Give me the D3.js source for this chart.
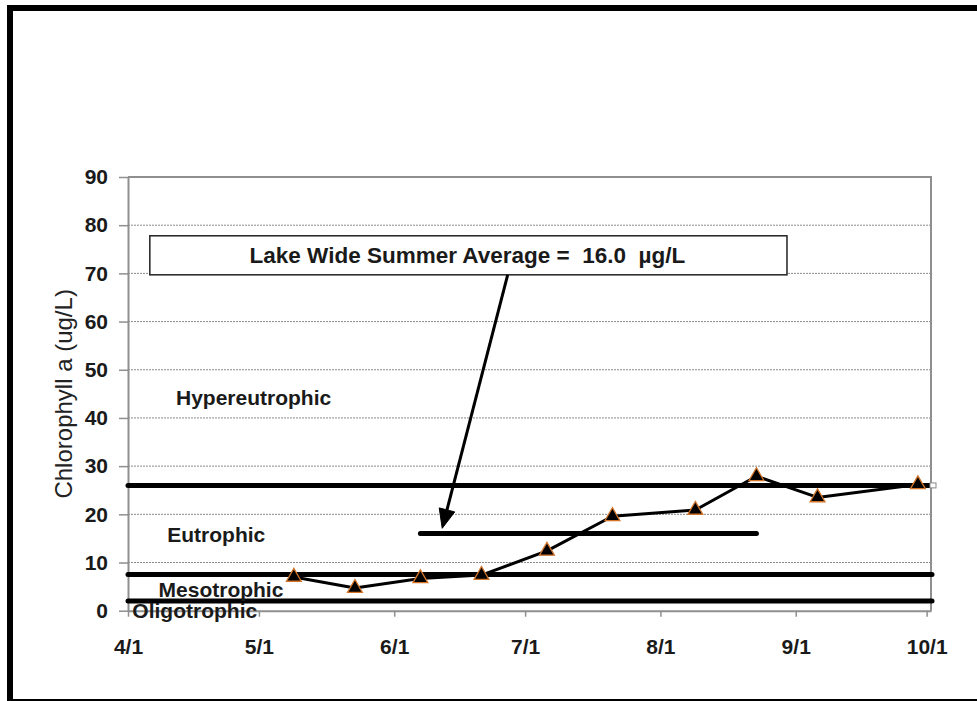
<!DOCTYPE html>
<html>
<head>
<meta charset="utf-8">
<script src="https://cdn.jsdelivr.net/npm/d3@7"></script>
<style>
  html, body { margin: 0; padding: 0; background: #fff; }
  svg { display: block; font-family: "Liberation Sans", Arial, sans-serif; }
</style>
</head>
<body>
<svg id="chart" width="977" height="701"></svg>
<script>
// ---------- data ----------
const YEAR = 2009;
const sampleDates = ["05-09", "05-23", "06-07", "06-21", "07-06", "07-21", "08-09", "08-23", "09-06", "09-29"];
const chlorophyll = [7.0, 4.7, 6.7, 7.4, 12.4, 19.6, 20.9, 27.9, 23.5, 26.2];

const xDomain = ["04-01", "10-02"];
const xTickDates = ["04-01", "05-01", "06-01", "07-01", "08-01", "09-01", "10-01"];
const yTicks = [0, 10, 20, 30, 40, 50, 60, 70, 80, 90];

const thresholdValues = [26, 7.5, 2];
const trophicLabels = ["Hypereutrophic", "Eutrophic", "Mesotrophic", "Oligotrophic"];
const trophicLabelDates = ["04-12", "04-10", "04-08", "04-02"];
const trophicLabelValues = [44.2, 15.8, 4.4, 0.0];

const summerAverage = 16.0;
const summerAvgRange = ["06-07", "08-23"];
const annotationText = "Lake Wide Summer Average =  16.0  µg/L";
const annotationBoxDates = ["04-06", "08-30"];
const annotationBoxValues = [69.7, 77.8];
const arrowFromTo = [["06-27", 69.7], ["06-12", 17.1]];

const yTitle = "Chlorophyll a (ug/L)";

// ---------- helpers ----------
const parse = s => new Date(YEAR, +s.slice(0, 2) - 1, +s.slice(3, 5));
const svg = d3.select("#chart");

// outer frame
svg.append("rect")
  .attr("x", 10).attr("y", 8)
  .attr("width", 1000).attr("height", 694)
  .attr("fill", "none").attr("stroke", "#000").attr("stroke-width", 6);

const x = d3.scaleTime().domain(xDomain.map(parse)).range([128, 931]);
const y = d3.scaleLinear().domain([0, 90]).range([610.7, 177]);

const g = svg.append("g");

// grid lines (dotted)
g.selectAll("line.grid")
  .data(yTicks.filter(v => v > 0 && v < 90))
  .join("line")
  .attr("class", "grid")
  .attr("x1", x.range()[0]).attr("x2", x.range()[1])
  .attr("y1", d => y(d)).attr("y2", d => y(d))
  .attr("stroke", "#8a8a8a").attr("stroke-width", 1)
  .attr("stroke-dasharray", "2,1");

// plot border top and right
g.append("path")
  .attr("d", `M${x.range()[0]},${y(90)}H${x.range()[1]}V${y(0)}`)
  .attr("fill", "none").attr("stroke", "#8f8f8f").attr("stroke-width", 2);

const tickFont = el => el
  .attr("font-size", 21).attr("font-weight", "bold").attr("fill", "#1a1a1a")
  .attr("font-family", "Liberation Sans, Arial, sans-serif");

// y axis
const yAxis = g.append("g")
  .attr("transform", `translate(${x.range()[0]},0)`)
  .call(d3.axisLeft(y).tickValues(yTicks).tickSize(9).tickPadding(11).tickSizeOuter(0));
yAxis.select(".domain").attr("stroke", "#8f8f8f").attr("stroke-width", 2);
yAxis.selectAll(".tick line").attr("stroke", "#8f8f8f").attr("stroke-width", 1.5);
yAxis.selectAll(".tick text").call(tickFont);

// x axis
const fmt = d => (d.getMonth() + 1) + "/" + d.getDate();
const xAxis = g.append("g")
  .attr("transform", `translate(0,${y(0)})`)
  .call(d3.axisBottom(x).tickValues(xTickDates.map(parse)).tickFormat(fmt).tickSize(6).tickPadding(22).tickSizeOuter(0));
xAxis.select(".domain").attr("stroke", "#8f8f8f").attr("stroke-width", 2);
xAxis.selectAll(".tick line").attr("stroke", "#8f8f8f").attr("stroke-width", 1.5);
xAxis.selectAll(".tick text").call(tickFont);

// y-axis title
svg.append("text")
  .attr("transform", `translate(63,${(y(0) + y(90)) / 2}) rotate(-90)`)
  .attr("text-anchor", "middle").attr("dominant-baseline", "central")
  .attr("font-size", 24).attr("fill", "#222")
  .text(yTitle);

// threshold lines
g.selectAll("line.thr")
  .data(thresholdValues)
  .join("line")
  .attr("class", "thr")
  .attr("x1", x.range()[0]).attr("x2", x.range()[1] + 1)
  .attr("y1", d => y(d)).attr("y2", d => y(d))
  .attr("stroke", "#000").attr("stroke-width", 5).attr("stroke-linecap", "round");

// small open marker at end of top threshold line
g.append("rect")
  .attr("x", x.range()[1] - 1).attr("y", y(thresholdValues[0]) - 2.5)
  .attr("width", 6).attr("height", 5)
  .attr("fill", "#fff").attr("stroke", "#888").attr("stroke-width", 1);

// trophic labels
g.selectAll("text.troph")
  .data(trophicLabels)
  .join("text")
  .attr("class", "troph")
  .attr("x", (d, i) => x(parse(trophicLabelDates[i])))
  .attr("y", (d, i) => y(trophicLabelValues[i]))
  .attr("dominant-baseline", "central")
  .attr("font-size", 21).attr("font-weight", "bold").attr("fill", "#1a1a1a")
  .text(d => d);

// summer average line
g.append("line")
  .attr("x1", x(parse(summerAvgRange[0]))).attr("x2", x(parse(summerAvgRange[1])))
  .attr("y1", y(summerAverage)).attr("y2", y(summerAverage))
  .attr("stroke", "#000").attr("stroke-width", 5).attr("stroke-linecap", "round");

// data line
const pts = sampleDates.map((d, i) => [x(parse(d)), y(chlorophyll[i])]);
g.append("path")
  .attr("d", d3.line()(pts))
  .attr("fill", "none").attr("stroke", "#000").attr("stroke-width", 3)
  .attr("stroke-linejoin", "round");

g.selectAll("path.marker")
  .data(pts)
  .join("path")
  .attr("class", "marker")
  .attr("transform", d => `translate(${d[0]},${d[1]})`)
  .attr("d", d3.symbol(d3.symbolTriangle, 95)())
  .attr("fill", "#000").attr("stroke", "#d2752a").attr("stroke-width", 1.3);

// annotation box
const bx0 = x(parse(annotationBoxDates[0])), bx1 = x(parse(annotationBoxDates[1]));
const by0 = y(annotationBoxValues[1]), by1 = y(annotationBoxValues[0]);
g.append("rect")
  .attr("x", bx0).attr("y", by0).attr("width", bx1 - bx0).attr("height", by1 - by0)
  .attr("fill", "#fff").attr("stroke", "#222").attr("stroke-width", 1.5);
g.append("text")
  .attr("x", (bx0 + bx1) / 2 - 1).attr("y", (by0 + by1) / 2)
  .attr("text-anchor", "middle").attr("dominant-baseline", "central")
  .attr("xml:space", "preserve").style("white-space", "pre")
  .attr("font-size", 22.5).attr("font-weight", "bold").attr("fill", "#1a1a1a")
  .text(annotationText);

// arrow (shaft + explicit head)
const a0 = [x(parse(arrowFromTo[0][0])), y(arrowFromTo[0][1])];
const a1 = [x(parse(arrowFromTo[1][0])), y(arrowFromTo[1][1])];
const ang = Math.atan2(a1[1] - a0[1], a1[0] - a0[0]);
const headLen = 19, headHalf = 8;
const base = [a1[0] - headLen * Math.cos(ang), a1[1] - headLen * Math.sin(ang)];
g.append("line")
  .attr("x1", a0[0]).attr("y1", a0[1]).attr("x2", base[0]).attr("y2", base[1])
  .attr("stroke", "#000").attr("stroke-width", 3);
const perp = [-Math.sin(ang), Math.cos(ang)];
g.append("path")
  .attr("d", d3.line()([
    a1,
    [base[0] + perp[0] * headHalf, base[1] + perp[1] * headHalf],
    [base[0] - perp[0] * headHalf, base[1] - perp[1] * headHalf]
  ]) + "Z")
  .attr("fill", "#000").attr("stroke", "#000").attr("stroke-width", 1);
</script>
</body>
</html>
